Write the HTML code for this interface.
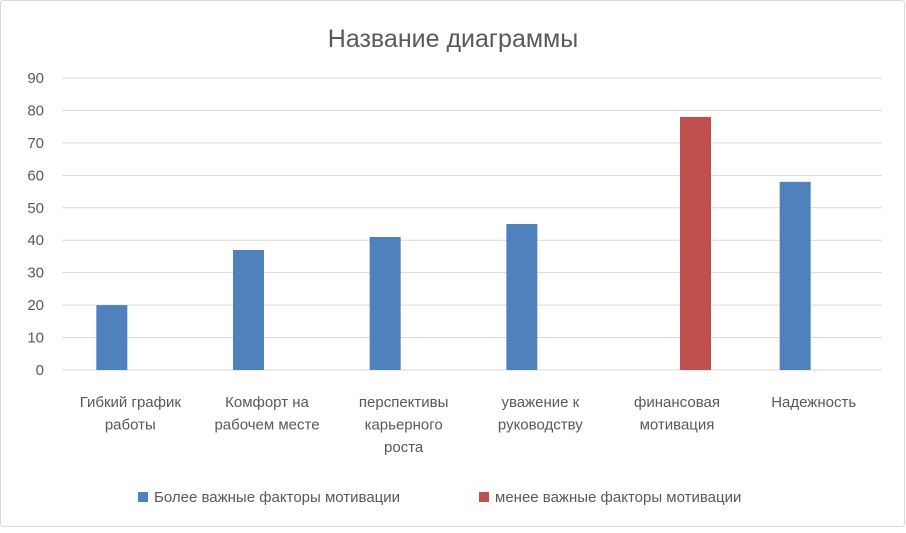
<!DOCTYPE html>
<html><head><meta charset="utf-8"><style>
body{margin:0;background:#fff;font-family:"Liberation Sans",sans-serif;}
svg text{font-family:"Liberation Sans",sans-serif;fill:#595959;}
</style></head><body>
<svg id="chart" width="906" height="528">
<rect x="0.5" y="0.5" width="904" height="526" rx="3" fill="#fff" stroke="#d9d9d9"/>
<text x="453" y="47" text-anchor="middle" font-size="25">Название диаграммы</text>
<g id="grid"></g><g id="bars"></g><g id="xlabels"></g>
<g>
<rect x="138" y="492" width="10" height="10" fill="#4f81bd"/>
<text x="154" y="502" font-size="15">Более важные факторы мотивации</text>
<rect x="479" y="492" width="10" height="10" fill="#c0504d"/>
<text x="495" y="502" font-size="15">менее важные факторы мотивации</text>
</g>
</svg>
<script>
const categories=[["Гибкий график","работы"],["Комфорт на","рабочем месте"],["перспективы","карьерного","роста"],["уважение к","руководству"],["финансовая","мотивация"],["Надежность"]];
const moreValues=[20,37,41,45,0,58];
const lessValues=[0,0,0,0,78,0];
const yTicks=[0,10,20,30,40,50,60,70,80,90];
const ns="http://www.w3.org/2000/svg";
const x0=62,x1=882,y0=370,yTop=78,yMax=90;
const bw=(x1-x0)/categories.length;
const y=v=>y0-(y0-yTop)*v/yMax;
function mk(t,a,p){const e=document.createElementNS(ns,t);for(const k in a)e.setAttribute(k,a[k]);p.appendChild(e);return e;}
const grid=document.getElementById('grid'),bars=document.getElementById('bars'),xl=document.getElementById('xlabels');
yTicks.forEach(t=>{
 const l=mk('line',{x1:x0,x2:x1,y1:y(t),y2:y(t),stroke:'#d9d9d9'},grid);
 
 
 const tx=mk('text',{x:44,y:y(t)+5,'text-anchor':'end','font-size':15},grid);tx.textContent=t;
 
 
});
categories.forEach((c,i)=>{
 const cx=x0+bw*(i+0.5);
 [[moreValues[i],cx-34,'#4f81bd','more'],[lessValues[i],cx+3,'#c0504d','less']].forEach(([v,bx,col,s])=>{
  if(!v)return;
  const r=mk('rect',{x:bx,y:y(v),width:31,height:y0-y(v),fill:col},bars);
  
  
 });
 c.forEach((line,j)=>{
  const t=mk('text',{x:cx,y:407+j*22.5,'text-anchor':'middle','font-size':15},xl);t.textContent=line;
  
  
 });
});
</script>
</body></html>
